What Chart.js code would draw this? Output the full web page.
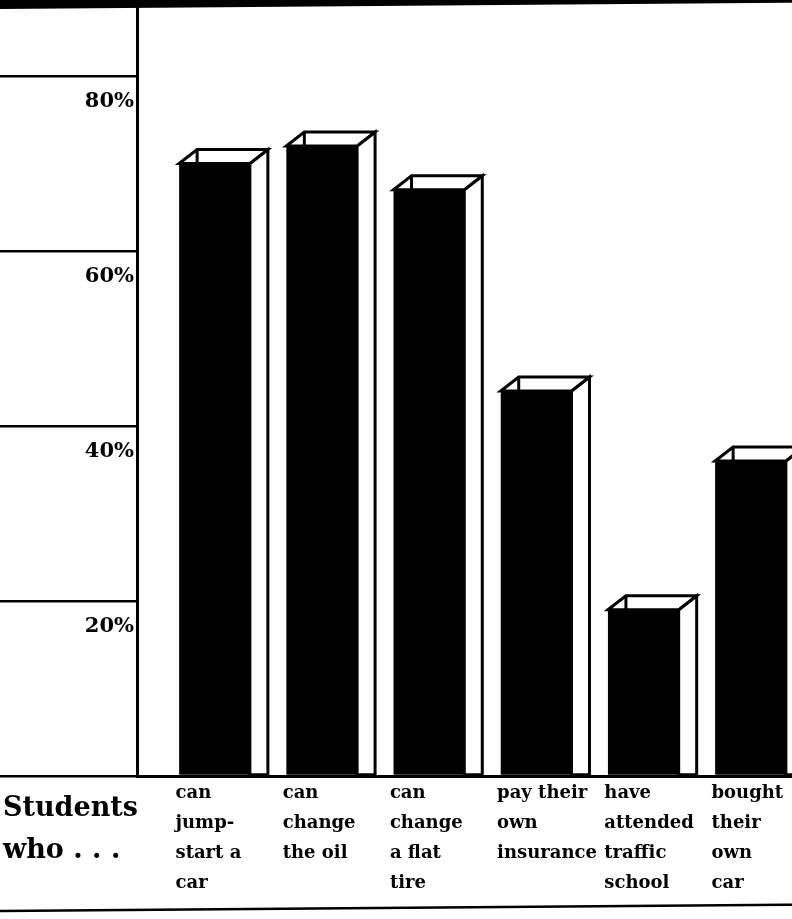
<!DOCTYPE html>
<html>
<head>
<meta charset="utf-8">
<script src="https://cdn.jsdelivr.net/npm/chart.js@4.4.1/dist/chart.umd.min.js"></script>
<style>
html, body { margin: 0; padding: 0; background: #fff; overflow: hidden; }
#wrap { position: relative; width: 792px; height: 919px; overflow: hidden; }
#students {
  position: absolute; left: 3px; top: 786px;
  font-family: "DejaVu Serif", serif; font-weight: bold;
  font-size: 27px; line-height: 42px; color: #000;
}
</style>
</head>
<body>
<div id="wrap">
  <canvas id="chart" width="880" height="919"></canvas>
  <div id="students">Students<br>who . . .</div>
</div>
<script>
// data
const categories = [
  ['can', 'jump-', 'start a', 'car'],
  ['can', 'change', 'the oil'],
  ['can', 'change', 'a flat', 'tire'],
  ['pay their', 'own', 'insurance'],
  ['have', 'attended', 'traffic', 'school'],
  ['bought', 'their', 'own', 'car']
];
const percents = [70, 72, 67, 44, 19, 36];
const yTicks = [20, 40, 60, 80];

const serif = 'DejaVu Serif';

// open-top 3D box look: white top + side faces
const boxPlugin = {
  id: 'box3d',
  afterDatasetsDraw(chart) {
    const ctx = chart.ctx;
    const dx = 18, dy = -14;
    chart.getDatasetMeta(0).data.forEach(bar => {
      const p = bar.getProps(['x', 'y', 'base', 'width'], true);
      const l = p.x - p.width / 2, r = p.x + p.width / 2;
      ctx.save();
      ctx.lineWidth = 3;
      ctx.strokeStyle = '#000';
      ctx.fillStyle = '#fff';
      // side face
      ctx.beginPath();
      ctx.moveTo(r, p.y);
      ctx.lineTo(r + dx, p.y + dy);
      ctx.lineTo(r + dx, p.base);
      ctx.lineTo(r, p.base);
      ctx.closePath();
      ctx.fill();
      ctx.stroke();
      // top face
      ctx.beginPath();
      ctx.moveTo(l, p.y);
      ctx.lineTo(l + dx, p.y + dy);
      ctx.lineTo(r + dx, p.y + dy);
      ctx.lineTo(r, p.y);
      ctx.closePath();
      ctx.fill();
      ctx.stroke();
      // back corner edge seen through the open top
      ctx.beginPath();
      ctx.moveTo(l + dx, p.y + dy);
      ctx.lineTo(l + dx, p.y);
      ctx.stroke();
      ctx.restore();
    });
  }
};

// page frame: heavy rule on top, thin rule at the bottom
const framePlugin = {
  id: 'frame',
  afterDraw(chart) {
    const ctx = chart.ctx, w = chart.width;
    ctx.save();
    ctx.fillStyle = '#000';
    ctx.beginPath();
    ctx.moveTo(0, 0);
    ctx.lineTo(w, 0);
    ctx.lineTo(w, 2);
    ctx.lineTo(0, 9);
    ctx.closePath();
    ctx.fill();
    ctx.strokeStyle = '#000';
    ctx.lineWidth = 2.5;
    ctx.beginPath();
    ctx.moveTo(0, 911);
    ctx.lineTo(w, 904);
    ctx.stroke();
    ctx.restore();
  }
};

new Chart(document.getElementById('chart').getContext('2d'), {
  type: 'bar',
  data: {
    datasets: [{
      data: percents.map((v, i) => ({ x: i, y: v })),
      backgroundColor: '#000',
      borderWidth: 0,
      barPercentage: 0.66,
      categoryPercentage: 1
    }]
  },
  options: {
    responsive: false,
    animation: false,
    layout: { padding: { top: 8, left: 0, right: 0, bottom: 0 } },
    plugins: {
      legend: { display: false },
      tooltip: { enabled: false }
    },
    scales: {
      x: {
        type: 'linear',
        offset: false,
        min: -0.723,
        max: 6.208,
        afterFit: s => { s.height = 143; },
        afterBuildTicks: s => { s.ticks = categories.map((c, i) => ({ value: i })); },
        grid: { display: false, offset: false },
        border: { display: true, color: '#000', width: 3 },
        ticks: {
          align: 'start',
          labelOffset: -39,
          padding: -6,
          autoSkip: false,
          maxRotation: 0,
          minRotation: 0,
          color: '#000',
          font: { family: serif, weight: 'bold', size: 18, lineHeight: 30 / 18 },
          callback: v => categories[v]
        }
      },
      y: {
        min: 0,
        max: 87.77,
        afterFit: s => { s.width = 137; },
        afterBuildTicks: s => { s.ticks = [0].concat(yTicks).map(v => ({ value: v })); },
        border: { display: true, color: '#000', width: 3 },
        grid: { drawOnChartArea: false, drawTicks: true, tickLength: 137, color: '#000', lineWidth: 2.5 },
        ticks: {
          padding: -134,
          labelOffset: 26,
          color: '#000',
          font: { family: serif, weight: 'bold', size: 21 },
          callback: v => (v === 0 ? '' : v + '%')
        }
      }
    }
  },
  plugins: [boxPlugin, framePlugin]
});
</script>
</body>
</html>
